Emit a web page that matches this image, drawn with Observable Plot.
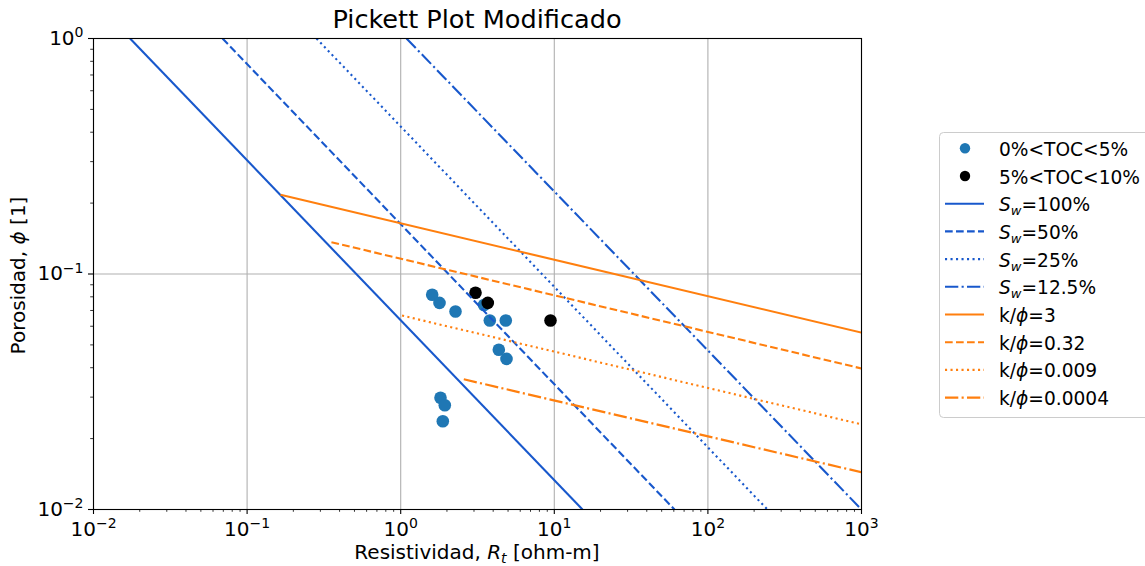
<!DOCTYPE html>
<html><head><meta charset="utf-8">
<script src="https://cdn.jsdelivr.net/npm/d3@7"></script>
<script src="https://cdn.jsdelivr.net/npm/@observablehq/plot@0.6"></script>
<style>
html,body{margin:0;padding:0;background:#fff;overflow:hidden;}
#chart{position:relative;width:1145px;height:566px;}
svg{font-family:"DejaVu Sans",sans-serif;}
</style>
</head><body><div id="chart"></div>
<script>
// ---- tick values and labels ----
const xMajors = [0.01, 0.1, 1, 10, 100, 1000];
const xTickLabels = ["10^−2", "10^−1", "10^0", "10^1", "10^2", "10^3"];
const yMajors = [0.01, 0.1, 1];
const yTickLabels = ["10^−2", "10^−1", "10^0"];
const xMinors = [0.02,0.03,0.04,0.05,0.06,0.07,0.08,0.09,
                 0.2,0.3,0.4,0.5,0.6,0.7,0.8,0.9,
                 2,3,4,5,6,7,8,9,
                 20,30,40,50,60,70,80,90,
                 200,300,400,500,600,700,800,900];
const yMinors = [0.02,0.03,0.04,0.05,0.06,0.07,0.08,0.09,
                 0.2,0.3,0.4,0.5,0.6,0.7,0.8,0.9];

// ---- data points ----
const toc1Rt  = [1.603, 1.789, 2.274, 3.485, 3.803, 4.832, 4.352, 4.884, 1.816, 1.937, 1.880];
const toc1Phi = [0.0816, 0.0754, 0.0693, 0.0739, 0.0635, 0.0635, 0.0477, 0.0436, 0.0298, 0.0277, 0.0237];
const toc2Rt  = [3.069, 3.690, 9.447];
const toc2Phi = [0.0832, 0.0754, 0.0635];

// ---- Archie Sw lines (endpoints) ----
const swLabels = ["100%", "50%", "25%", "12.5%"];
const swRt  = [[0.0173, 15.26], [0.0692, 60.6], [0.283, 244], [1.091, 1000]];
const swPhi = [[1, 0.01], [1, 0.01], [1, 0.01], [1, 0.01]];

// ---- k/phi lines (endpoints) ----
const kLabels = ["3", "0.32", "0.009", "0.0004"];
const kRt  = [[0.165, 1000], [0.354, 1000], [1.02, 1000], [2.575, 1000]];
const kPhi = [[0.2169, 0.0564], [0.1365, 0.0397], [0.0666, 0.0230], [0.0357, 0.0144]];

const BLUE = "#1858cc", ORANGE = "#ff7f0e", PTBLUE = "#1f77b4";
const dashes = [null, "7.7,3.3", "2.1,3.4", "13.3,3.3,2.1,3.3"];
const LW = 2.1;

const pts1 = toc1Rt.map((x, i) => ({x, y: toc1Phi[i]}));
const pts2 = toc2Rt.map((x, i) => ({x, y: toc2Phi[i]}));
const lineMarks = [];
swRt.forEach((xs, i) => {
  lineMarks.push(Plot.line(xs.map((x, j) => ({x, y: swPhi[i][j]})),
    {x: "x", y: "y", stroke: BLUE, strokeWidth: LW, strokeDasharray: dashes[i],
     strokeLinecap: "butt", strokeLinejoin: "miter", clip: true}));
});
kRt.forEach((xs, i) => {
  lineMarks.push(Plot.line(xs.map((x, j) => ({x, y: kPhi[i][j]})),
    {x: "x", y: "y", stroke: ORANGE, strokeWidth: LW, strokeDasharray: dashes[i],
     strokeLinecap: "butt", strokeLinejoin: "miter", clip: true}));
});

const fmtX = d => xTickLabels[xMajors.indexOf(d)] ?? "";
const fmtY = d => yTickLabels[yMajors.indexOf(d)] ?? "";

const svg = Plot.plot({
  width: 1145, height: 566,
  marginLeft: 93, marginRight: 284, marginTop: 38, marginBottom: 57,
  style: {fontFamily: "DejaVu Sans", fontSize: "20px", color: "#000", background: "#fff", overflow: "hidden"},
  x: {type: "log", domain: [0.01, 1000]},
  y: {type: "log", domain: [0.01, 1]},
  marks: [
    Plot.gridX(xMajors, {stroke: "#b0b0b0", strokeOpacity: 1, strokeWidth: 1.1}),
    Plot.gridY(yMajors, {stroke: "#b0b0b0", strokeOpacity: 1, strokeWidth: 1.1}),
    Plot.dot(pts1, {x: "x", y: "y", r: 6.3, fill: PTBLUE, stroke: null}),
    Plot.dot(pts2, {x: "x", y: "y", r: 6.3, fill: "#000", stroke: null}),
    ...lineMarks,
    Plot.axisX({ticks: xMinors, tickSize: 2.8, tickFormat: () => "", stroke: "#000", strokeWidth: 0.8, label: null}),
    Plot.axisY({ticks: yMinors, tickSize: 2.8, tickFormat: () => "", stroke: "#000", strokeWidth: 0.8, label: null}),
    Plot.axisX({ticks: xMajors, tickSize: 5, tickPadding: 7, tickFormat: fmtX, stroke: "#000", strokeWidth: 1.1, fontSize: 20, label: null}),
    Plot.axisY({ticks: yMajors, tickSize: 5, tickPadding: 5, tickFormat: fmtY, stroke: "#000", strokeWidth: 1.1, fontSize: 20, label: null}),
    Plot.frame({stroke: "#000", strokeWidth: 1.1})
  ]
});
document.getElementById("chart").appendChild(svg);

const NS = "http://www.w3.org/2000/svg";
// superscripts on tick labels
svg.querySelectorAll('g[aria-label$="tick label"] text').forEach(t => {
  const s = t.textContent;
  if (!s.includes("^")) return;
  const [b, e] = s.split("^");
  t.textContent = "";
  const t1 = document.createElementNS(NS, "tspan"); t1.textContent = b;
  const t2 = document.createElementNS(NS, "tspan"); t2.textContent = e;
  t2.setAttribute("font-size", "0.7em"); t2.setAttribute("dy", "-0.55em");
  t.append(t1, t2);
});

const root = d3.select(svg);
const fx = svg.scale("x"), fy = svg.scale("y");
const x0 = fx.apply(0.01), x1 = fx.apply(1000), yTop = fy.apply(1), yBot = fy.apply(0.01);
const cx = (x0 + x1) / 2, cy = (yTop + yBot) / 2;

// title
root.append("text").attr("x", cx).attr("y", yTop - 10).attr("text-anchor", "middle")
  .attr("font-size", 25.6).attr("fill", "#000").text("Pickett Plot Modificado");

// x label
const xl = root.append("text").attr("x", cx).attr("y", yBot + 50).attr("text-anchor", "middle")
  .attr("font-size", 20).attr("fill", "#000");
xl.append("tspan").text("Resistividad, ");
xl.append("tspan").attr("font-style", "italic").text("R");
xl.append("tspan").attr("font-style", "italic").attr("font-size", "0.7em").attr("dy", "0.3em").text("t");
xl.append("tspan").attr("dy", "-0.21em").text(" [ohm-m]");

// y label
const yl = root.append("text").attr("transform", `translate(25,${cy + 2}) rotate(-90)`)
  .attr("text-anchor", "middle").attr("font-size", 20).attr("fill", "#000");
yl.append("tspan").text("Porosidad, ");
yl.append("tspan").attr("font-style", "italic").text("ϕ");
yl.append("tspan").text(" [1]");

// legend
const lg = root.append("g").attr("font-size", 18.6).attr("fill", "#000").attr("text-anchor", "start");
lg.append("rect").attr("x", 939.5).attr("y", 132.5).attr("width", 220).attr("height", 285)
  .attr("rx", 4).attr("fill", "#fff").attr("stroke", "#cccccc").attr("stroke-width", 1);
const ly0 = 148.3, lstep = 27.7;
const entries = [];
entries.push({type: "dot", color: PTBLUE, label: "0%<TOC<5%"});
entries.push({type: "dot", color: "#000", label: "5%<TOC<10%"});
swLabels.forEach((s, i) => entries.push({type: "line", color: BLUE, dash: dashes[i], sw: s}));
kLabels.forEach((s, i) => entries.push({type: "line", color: ORANGE, dash: dashes[i], k: s}));
entries.forEach((e, i) => {
  const yy = ly0 + i * lstep;
  if (e.type === "dot") {
    lg.append("circle").attr("cx", 965).attr("cy", yy).attr("r", 5.2).attr("fill", e.color);
  } else {
    lg.append("line").attr("x1", 945).attr("x2", 984).attr("y1", yy).attr("y2", yy)
      .attr("stroke", e.color).attr("stroke-width", LW).attr("stroke-dasharray", e.dash)
      .attr("stroke-linecap", "butt");
  }
  const t = lg.append("text").attr("x", 999).attr("y", yy + 7.5).attr("text-anchor", "start");
  if (e.label) t.text(e.label);
  else if (e.sw) {
    t.append("tspan").attr("font-style", "italic").text("S");
    t.append("tspan").attr("font-style", "italic").attr("font-size", "0.7em").attr("dy", "0.3em").text("w");
    t.append("tspan").attr("dy", "-0.21em").text("=" + e.sw);
  } else {
    t.append("tspan").text("k/");
    t.append("tspan").attr("font-style", "italic").text("ϕ");
    t.append("tspan").text("=" + e.k);
  }
});
</script>
</body></html>
